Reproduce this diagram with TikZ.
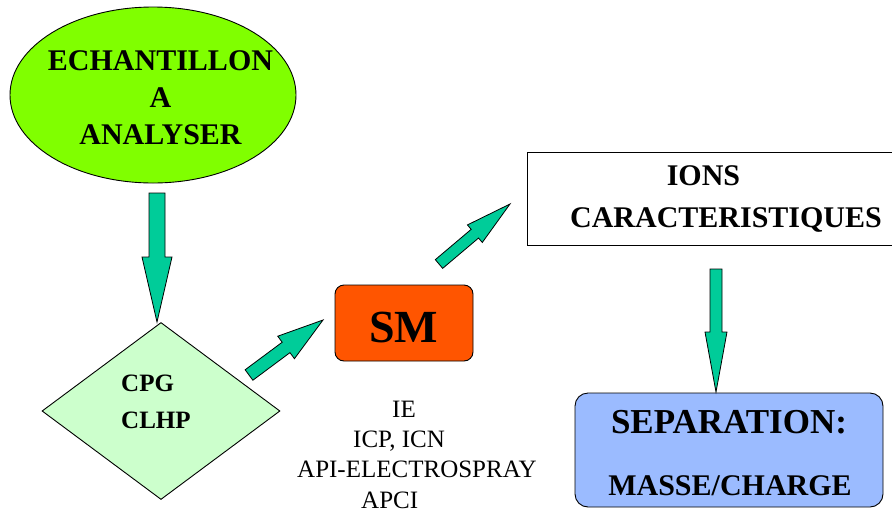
\documentclass[tikz,border=0pt]{standalone}
\usepackage{fontspec}
\setmainfont{Liberation Serif}
\usetikzlibrary{shapes.geometric,calc}

\definecolor{samplegreen}{RGB}{128,255,0}
\definecolor{chromgreen}{RGB}{204,255,204}
\definecolor{smorange}{RGB}{255,85,0}
\definecolor{sepblue}{RGB}{155,187,255}
\definecolor{arrowteal}{RGB}{0,204,153}

% block arrow: #1 tail, #2 tip, #3 shaft half-width, #4 head half-width, #5 head length
\newcommand\flowarrow[5]{%
  \coordinate (hb) at ($(#2)!#5!(#1)$);
  \draw[arrowbody]
    ($(#1)!#3!90:(#2)$) -- ($(hb)!#3!90:(#2)$) -- ($(hb)!#4!90:(#2)$) -- (#2)
    -- ($(hb)!#4!-90:(#2)$) -- ($(hb)!#3!-90:(#2)$) -- ($(#1)!#3!-90:(#2)$) -- cycle;
}

\begin{document}
\begin{tikzpicture}[x=1pt,y=-1pt,
  outline/.style={draw=black,line width=0.9pt},
  arrowbody/.style={draw=black,line width=0.8pt,fill=arrowteal,line join=miter},
  boldtext/.style={inner sep=0pt,font=\bfseries},
  plaintext/.style={inner sep=0pt,font=\fontsize{25}{30}\selectfont}]

\useasboundingbox (0,0) rectangle (892,512);

% shapes
\node[ellipse,outline,fill=samplegreen,minimum width=286pt,minimum height=176pt,inner sep=0pt] (sample) at (153,95) {};
\node[diamond,outline,fill=chromgreen,minimum width=238pt,minimum height=177pt,inner sep=0pt] (chrom) at (161,411) {};
\node[rectangle,outline,rounded corners=9pt,fill=smorange,minimum width=138pt,minimum height=76pt] (sm) at (404,323) {};
\node[rectangle,minimum width=364pt,minimum height=92pt,inner sep=0pt] (ions) at (710,199) {};
\draw[line width=0.9pt] (ions.north east) -- (ions.north west) -- (ions.south west) -- (ions.south east);
\node[rectangle,outline,rounded corners=13pt,fill=sepblue,minimum width=308pt,minimum height=114pt] (sep) at (729,450) {};

% labels
\node[boldtext,anchor=base,font=\bfseries\fontsize{30}{36}\selectfont] (s1) at (160.5,70) {ECHANTILLON};
\node[boldtext,anchor=base,font=\bfseries\fontsize{30}{36}\selectfont] (s2) at (160.5,107) {A};
\node[boldtext,anchor=base,font=\bfseries\fontsize{30}{36}\selectfont] (s3) at (160.5,144) {ANALYSER};

\node[boldtext,anchor=base west,font=\bfseries\fontsize{25}{30}\selectfont] (c1) at (121,391) {CPG};
\node[boldtext,anchor=base west,font=\bfseries\fontsize{25}{30}\selectfont] (c2) at (121,428) {CLHP};

\node[boldtext,anchor=base,font=\bfseries\fontsize{46}{50}\selectfont] (smt) at (403.5,342) {SM};

\node[boldtext,anchor=base,font=\bfseries\fontsize{30}{36}\selectfont] (i1) at (703.5,185) {IONS};
\node[boldtext,anchor=base,font=\bfseries\fontsize{30}{36}\selectfont] (i2) at (726,227) {CARACTERISTIQUES};

\node[boldtext,anchor=base,font=\bfseries\fontsize{35}{40}\selectfont] (p1) at (729,433) {SEPARATION:};
\node[boldtext,anchor=base,font=\bfseries\fontsize{30}{36}\selectfont] (p2) at (730,495) {MASSE/CHARGE};

\node[plaintext,anchor=base west] (m1) at (392,417) {IE};
\node[plaintext,anchor=base west] (m2) at (353,447) {ICP, ICN};
\node[plaintext,anchor=base west] (m3) at (297,477) {API-ELECTROSPRAY};
\node[plaintext,anchor=base west] (m4) at (361,508) {APCI};

% arrow ends
\coordinate (a1s) at (157,193);
\coordinate (a1e) at (157,322);
\coordinate (a2s) at (249,375);
\coordinate (a2e) at (323,320);
\coordinate (a3s) at (439,264);
\coordinate (a3e) at (510,204);
\coordinate (a4s) at (716,269);
\coordinate (a4e) at (716,392);

\flowarrow{a1s}{a1e}{8pt}{15pt}{65pt}
\flowarrow{a2s}{a2e}{6.5pt}{14pt}{46pt}
\flowarrow{a3s}{a3e}{5.7pt}{11.5pt}{46pt}
\flowarrow{a4s}{a4e}{6pt}{11pt}{60pt}

\end{tikzpicture}
\end{document}
